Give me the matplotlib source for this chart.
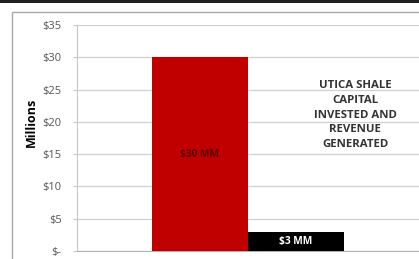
import matplotlib.pyplot as plt
from matplotlib.patches import Rectangle

categories = ["Capital Invested", "Revenue Generated"]
values = [30, 3]
bar_labels = ["$30 MM", "$3 MM"]
bar_colors = ["#c00000", "#000000"]
label_colors = ["#5c0000", "#ffffff"]
yticks = [0, 5, 10, 15, 20, 25, 30, 35]
ytick_labels = ["$-", "$5", "$10", "$15", "$20", "$25", "$30", "$35"]
title = "UTICA SHALE\nCAPITAL\nINVESTED AND\nREVENUE\nGENERATED"

plt.rcParams['font.family'] = ['Open Sans', 'DejaVu Sans']

W, H = 419, 259
fig = plt.figure(figsize=(W / 100, H / 100), dpi=100)

# outer frame and top band
fig.patches.append(Rectangle((12 / W, -0.1), 1.2, (H - 12) / H + 0.1, transform=fig.transFigure,
                             fill=False, edgecolor="#a8a8a8", linewidth=1.0))
fig.patches.append(Rectangle((0, (H - 2.5) / H), 1, 2.5 / H, transform=fig.transFigure,
                             facecolor="#222222", edgecolor="none"))

ax = fig.add_axes([77 / W, 8 / H, (W - 77) / W, (251 - 25) / H])
x = [0, 1]
ax.bar(x, values, width=1.0, color=bar_colors, zorder=3)
for xi, v, lab, c in zip(x, values, bar_labels, label_colors):
    ax.text(xi, v / 2, lab, ha='center', va='center', fontsize=7.3,
            fontweight='bold', color=c, zorder=4)

ax.set_xlim((77 - 199.5) / 96, (W - 199.5) / 96)
ax.set_ylim(0, 35)
ax.set_yticks(yticks)
ax.set_yticklabels(ytick_labels)
ax.set_xticks([])
ax.grid(axis='y', color="#d0d0d0", linewidth=0.9, zorder=0)
for s in ['top', 'right']:
    ax.spines[s].set_visible(False)
ax.spines['left'].set_color("#c8c8c8")
ax.spines['bottom'].set_color("#b0b0b0")
ax.tick_params(axis='y', length=3, width=0.8, color="#c8c8c8", pad=8,
               labelsize=8, labelcolor="#555555")
ax.set_ylabel("Millions", fontsize=9, fontweight='bold')
ax.yaxis.set_label_coords(-(77 - 38) / (W - 77), 0.57)

fig.text(355 / W, (H - 115) / H, title, ha='center', va='center', fontsize=8.2,
         fontweight='bold', color="#333333", linespacing=1.45)

fig.savefig("out.png", dpi=100)
